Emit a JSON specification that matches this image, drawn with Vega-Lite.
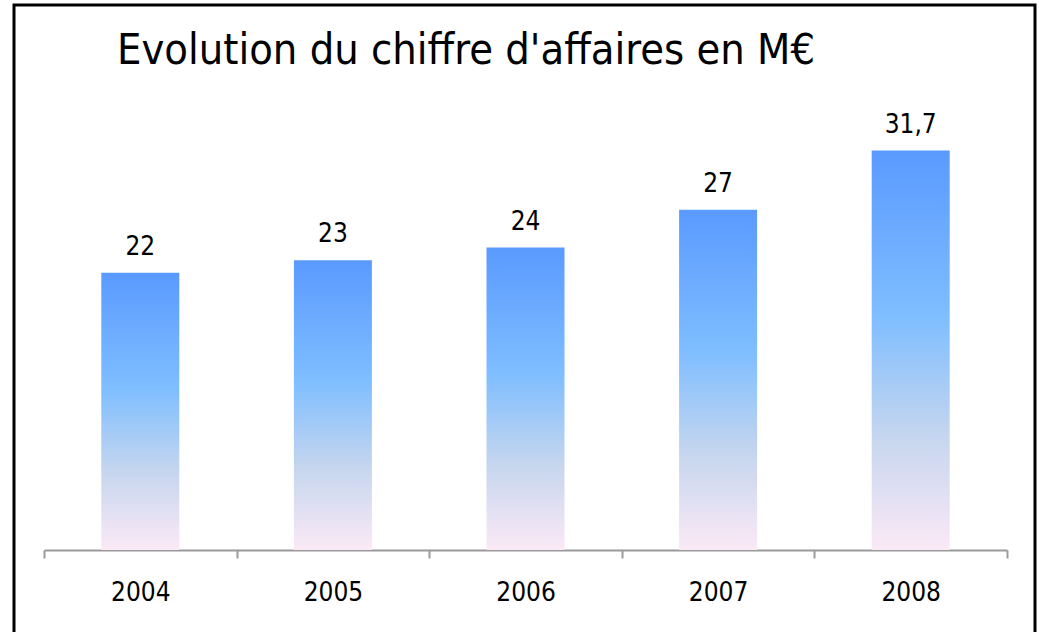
{
  "$schema": "https://vega.github.io/schema/vega-lite/v6.json",
  "width": 1021,
  "height": 629,
  "autosize": "none",
  "padding": {"left": 14, "top": 5, "right": 4, "bottom": 0},
  "background": "white",
  "config": {
    "view": {"stroke": "black", "strokeWidth": 3},
    "font": "DejaVu Sans Condensed"
  },
  "title": {
    "text": "Evolution du chiffre d'affaires en M€",
    "anchor": "start",
    "frame": "group",
    "dx": 103,
    "dy": 42,
    "offset": -60,
    "baseline": "alphabetic",
    "fontSize": 43,
    "fontWeight": "normal",
    "font": "DejaVu Sans Condensed",
    "color": "black"
  },
  "data": {
    "values": [
      {"annee": "2004", "ca": 22, "label": "22"},
      {"annee": "2005", "ca": 23, "label": "23"},
      {"annee": "2006", "ca": 24, "label": "24"},
      {"annee": "2007", "ca": 27, "label": "27"},
      {"annee": "2008", "ca": 31.7, "label": "31,7"}
    ]
  },
  "encoding": {
    "x": {
      "field": "annee",
      "type": "nominal",
      "sort": null,
      "scale": {"type": "band", "range": [30, 993], "paddingInner": 0, "paddingOuter": 0},
      "axis": {
        "title": null,
        "orient": "bottom",
        "offset": -84,
        "tickBand": "extent",
        "labelAngle": 0,
        "labelFontSize": 26,
        "labelColor": "black",
        "labelPadding": 21,
        "tickSize": 8,
        "tickWidth": 2,
        "tickColor": "#9a9a9a",
        "domainColor": "#9a9a9a",
        "domainWidth": 2,
        "grid": false
      }
    },
    "y": {
      "field": "ca",
      "type": "quantitative",
      "scale": {"domain": [-6.667, 43.254], "zero": false, "nice": false},
      "axis": null
    }
  },
  "layer": [
    {
      "mark": {
        "type": "bar",
        "width": {"band": 0.405},
        "color": {
          "gradient": "linear",
          "x1": 0, "y1": 0, "x2": 0, "y2": 1,
          "stops": [
            {"offset": 0, "color": "#5A9AFF"},
            {"offset": 0.42, "color": "#7FBEFF"},
            {"offset": 0.72, "color": "#C6D6EE"},
            {"offset": 1, "color": "#FBE9F6"}
          ]
        }
      },
      "encoding": {"y2": {"datum": 0}}
    },
    {
      "mark": {
        "type": "text",
        "baseline": "alphabetic",
        "dy": -18,
        "fontSize": 26,
        "color": "black",
        "font": "DejaVu Sans Condensed"
      },
      "encoding": {"text": {"field": "label"}}
    }
  ]
}
